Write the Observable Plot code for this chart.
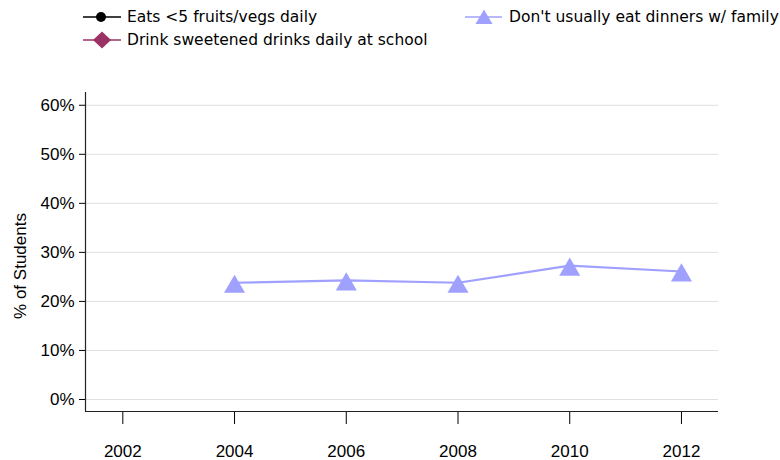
<!DOCTYPE html>
<html>
<head>
<meta charset="utf-8">
<script src="https://cdn.jsdelivr.net/npm/d3@7"></script>
<script src="https://cdn.jsdelivr.net/npm/@observablehq/plot@0.6"></script>
<style>
  html, body { margin: 0; padding: 0; background: #fff; }
  #wrap { position: relative; width: 780px; height: 460px; }
  #legend { position: relative; width: 780px; height: 55px; font-family: "DejaVu Sans", Verdana, sans-serif; font-size: 15.5px; color: #000; }
  .item { position: absolute; display: flex; align-items: center; white-space: nowrap; height: 20px; }
  .item svg { display: block; }
  .item span { line-height: 20px; }
  #chart svg { display: block; }
  #chart svg text { font-family: "Liberation Sans", Arial, sans-serif !important; font-size: 17px !important; }
</style>
</head>
<body>
<div id="wrap">
  <div id="legend"></div>
  <div id="chart"></div>
</div>
<script>
const years = [2002, 2004, 2006, 2008, 2010, 2012];
const fruitVeg = [null, null, null, null, null, null];
const sweetDrinks = [null, null, null, null, null, null];
const dinners = [null, 23.8, 24.3, 23.8, 27.3, 26.1];
const seriesNames = ["Eats <5 fruits/vegs daily", "Drink sweetened drinks daily at school", "Don't usually eat dinners w/ family"];
const seriesColors = ["#000000", "#993366", "#a0a0ff"];
const seriesSymbols = ["circle", "diamond", "triangle"];
const yTicks = [0, 10, 20, 30, 40, 50, 60];

// Legend (HTML above the SVG)
const legendPos = [[83, 7], [83, 29.5], [465, 7]];
const legend = document.getElementById("legend");
seriesNames.forEach((name, i) => {
  const div = document.createElement("div");
  div.className = "item";
  div.style.left = legendPos[i][0] + "px";
  div.style.top = legendPos[i][1] + "px";
  const c = seriesColors[i];
  let marker = "";
  if (seriesSymbols[i] === "circle") marker = `<circle cx="18" cy="10" r="5" fill="${c}"/>`;
  if (seriesSymbols[i] === "diamond") marker = `<path d="M19 1.5 L28 10 L19 18.5 L10 10 Z" fill="${c}"/>`;
  if (seriesSymbols[i] === "triangle") marker = `<path d="M19 2.5 L27.5 17 L10.5 17 Z" fill="${c}"/>`;
  const w = seriesSymbols[i] === "triangle" ? 37 : 38;
  const gap = seriesSymbols[i] === "triangle" ? 7 : 6;
  div.innerHTML = `<svg width="${w}" height="20" style="margin-right:${gap}px"><line x1="0" x2="${w}" y1="10" y2="10" stroke="${c}" stroke-width="1.5"/>${marker}</svg><span>${name}</span>`;
  legend.appendChild(div);
});

const data = [];
years.forEach((yr, j) => {
  [fruitVeg, sweetDrinks, dinners].forEach((arr, i) => {
    if (arr[j] != null) data.push({year: yr, value: arr[j], series: seriesNames[i]});
  });
});

const xDomain = [2001.332, 2012.663];
const yDomain = [-2.45, 62.6];

const chart = Plot.plot({
  width: 780,
  height: 405,
  marginLeft: 85,
  marginRight: 62,
  marginTop: 37,
  marginBottom: 49,
  style: { fontFamily: "'Liberation Sans', Arial, sans-serif", fontSize: "17px", color: "#000", background: "#fff" },
  x: { domain: xDomain, ticks: years, tickFormat: "d", label: null },
  y: { domain: yDomain, ticks: yTicks, tickFormat: d => d + "%", label: null },
  color: { domain: seriesNames, range: seriesColors },
  marks: [
    Plot.gridY(yTicks, { stroke: "#e0e0e0", strokeOpacity: 1, strokeWidth: 1 }),
    Plot.axisY(yTicks, { tickSize: 6, tickPadding: 5, tickFormat: d => d + "%", fontSize: 17, label: null, stroke: "#000" }),
    Plot.axisX(years, { tickSize: 13, tickPadding: 20, tickFormat: "d", fontSize: 17, label: null, stroke: "#000" }),
    Plot.ruleX([xDomain[0]], { stroke: "#222", strokeWidth: 1.2 }),
    Plot.ruleY([yDomain[0]], { stroke: "#222", strokeWidth: 1.2 }),
    Plot.line(data, { x: "year", y: "value", stroke: "series", strokeWidth: 2.2 }),
    Plot.dot(data, { x: "year", y: "value", fill: "series", symbol: "triangle", r: 7.8, dy: 4, stroke: "none" }),
    Plot.text(["% of Students"], { frameAnchor: "left", textAnchor: "middle", lineAnchor: "middle", dx: -64.5, dy: 14, rotate: -90, fontSize: 17, text: d => d })
  ]
});
document.getElementById("chart").appendChild(chart);
</script>
</body>
</html>
